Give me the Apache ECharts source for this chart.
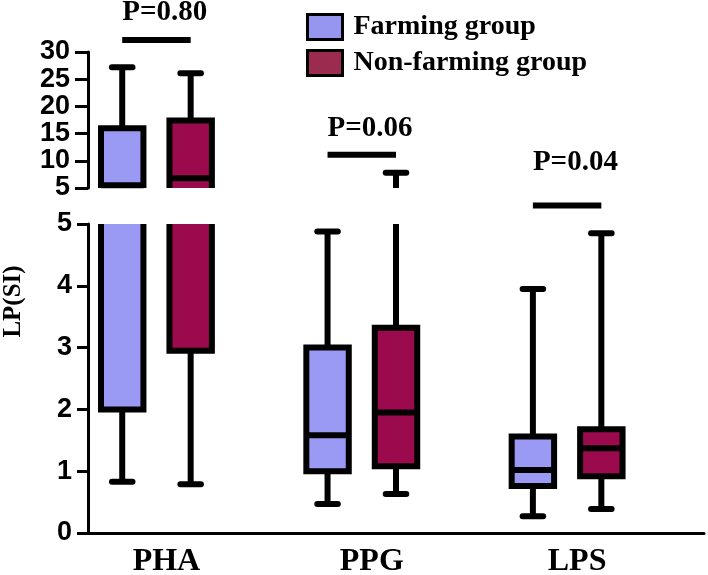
<!DOCTYPE html>
<html><head><meta charset="utf-8">
<script src="https://cdn.jsdelivr.net/npm/echarts@6/dist/echarts.min.js"></script>
<style>html,body{margin:0;padding:0;background:#fff}#c{width:708px;height:575px}</style>
</head><body><div id="c"></div>
<script>
const categories = ['PHA', 'PPG', 'LPS'];
const seriesNames = ['Farming group', 'Non-farming group'];
// [min, Q1, median, Q3, max] per category
const farming = [
  [0.83, 2.0, 5.5, 16.0, 27.2],
  [0.47, 1.0, 1.58, 3.0, 4.88],
  [0.27, 0.76, 1.02, 1.56, 3.95]
];
const nonFarming = [
  [0.79, 2.95, 6.8, 17.4, 26.1],
  [0.63, 1.08, 1.95, 3.32, 7.8],
  [0.39, 0.92, 1.37, 1.68, 4.85]
];
const upperTicks = [5, 10, 15, 20, 25, 30];
const lowerTicks = [0, 1, 2, 3, 4, 5];
const pLabels = ['P=0.80', 'P=0.06', 'P=0.04'];
const pPanel = [0, 0, 1];          // 0 = upper segment, 1 = lower segment
const pLineLevels = [32.2, 11.1, 5.3];
const pTextLevels = [37.2, 16.0, 6.0];

const BREAK = 5;
const LW = 6;
const colors = ['#9a9af5', '#9c0a4e'];
const legendColors = ['#9696f0', '#9c2c4f'];

function boxRenderer(lo, hi, s) {
  return function (params, api) {
    const g = api.value(0);
    const v = [api.value(1), api.value(2), api.value(3), api.value(4), api.value(5)];
    const xc = 1 + 3 * g + (s === 0 ? -0.5 : 0.5);
    const slot = api.size([1, 0])[0];
    const hw = slot * 0.31, cw = slot * 0.15;
    const cx = api.coord([xc, lo])[0];
    const Y = y => api.coord([xc, y])[1];
    const cl = y => Math.min(hi, Math.max(lo, y));
    const inR = y => y >= lo && y <= hi;
    const color = api.visual('color');
    const ls = { stroke: '#000', lineWidth: LW, fill: null };
    const ch = [];
    const L = cx - hw, R = cx + hw;
    const a = cl(v[3]), bmax = cl(v[4]);
    if (bmax > a) ch.push({ type: 'line', shape: { x1: cx, y1: Y(a), x2: cx, y2: Y(bmax) }, style: Object.assign({}, ls, { lineCap: 'butt' }) });
    if (inR(v[4])) ch.push({ type: 'line', shape: { x1: cx - cw, y1: Y(v[4]), x2: cx + cw, y2: Y(v[4]) }, style: Object.assign({}, ls, { lineCap: 'round' }) });
    const c = cl(v[1]), dmin = cl(v[0]);
    if (c > dmin) ch.push({ type: 'line', shape: { x1: cx, y1: Y(c), x2: cx, y2: Y(dmin) }, style: Object.assign({}, ls, { lineCap: 'butt' }) });
    if (inR(v[0])) ch.push({ type: 'line', shape: { x1: cx - cw, y1: Y(v[0]), x2: cx + cw, y2: Y(v[0]) }, style: Object.assign({}, ls, { lineCap: 'round' }) });
    const b = cl(v[1]), t = cl(v[3]);
    if (t > b) {
      const yb = Y(b), yt = Y(t);
      ch.push({ type: 'rect', shape: { x: L, y: yt, width: R - L, height: yb - yt }, style: { fill: color } });
      const hasTop = inR(v[3]), hasBot = inR(v[1]);
      let pts = null;
      if (hasTop && hasBot) {
        ch.push({ type: 'rect', shape: { x: L, y: yt, width: R - L, height: yb - yt }, style: Object.assign({}, ls, { lineJoin: 'miter' }) });
      } else if (hasTop) {
        pts = [[L, yb], [L, yt], [R, yt], [R, yb]];
      } else if (hasBot) {
        pts = [[L, yt], [L, yb], [R, yb], [R, yt]];
      } else {
        ch.push({ type: 'line', shape: { x1: L, y1: yt, x2: L, y2: yb }, style: ls });
        ch.push({ type: 'line', shape: { x1: R, y1: yt, x2: R, y2: yb }, style: ls });
      }
      if (pts) ch.push({ type: 'polyline', shape: { points: pts }, style: Object.assign({}, ls, { lineJoin: 'miter', lineCap: 'butt' }) });
    }
    if (inR(v[2])) ch.push({ type: 'line', shape: { x1: L, y1: Y(v[2]), x2: R, y2: Y(v[2]) }, style: Object.assign({}, ls, { lineCap: 'butt' }) });
    return { type: 'group', children: ch };
  };
}

function pRenderer(params, api) {
  const i = api.value(0);
  const lvl = api.value(1), tl = api.value(2);
  const p1 = api.coord([1 + 3 * i - 0.5, lvl]);
  const p2 = api.coord([1 + 3 * i + 0.5, lvl]);
  const pt = api.coord([1 + 3 * i - 0.5, tl]);
  return {
    type: 'group', children: [
      { type: 'line', shape: { x1: p1[0], y1: p1[1], x2: p2[0], y2: p2[1] }, style: { stroke: '#000', lineWidth: LW } },
      { type: 'text', x: pt[0], y: pt[1], style: { text: pLabels[i], fill: '#000', font: 'bold 29px "Liberation Serif"', align: 'left', verticalAlign: 'middle' } }
    ]
  };
}

function axisStyle(tickLen) {
  return {
    axisLine: { show: true, lineStyle: { color: '#000', width: 3 } },
    axisTick: { show: true, length: tickLen, lineStyle: { color: '#000', width: 3 } },
    splitLine: { show: false },
    axisLabel: { color: '#000', fontFamily: 'Liberation Sans', fontWeight: 'bold', fontSize: 27, margin: tickLen + 5 }
  };
}

const mkData = arr => arr.map((d, i) => [i].concat(d));
const pData = panel => pLabels.map((t, i) => [i, pLineLevels[i], pTextLevels[i]]).filter((d, i) => pPanel[i] === panel);

const option = {
  animation: false,
  backgroundColor: '#fff',
  grid: [
    { left: 88, right: 4, top: 52, height: 136, outerBoundsMode: 'none', containLabel: false },
    { left: 88, right: 4, top: 224, height: 309, outerBoundsMode: 'none', containLabel: false }
  ],
  legend: {
    orient: 'vertical', left: 301, top: 8, itemWidth: 35, itemHeight: 25, itemGap: 8, icon: 'rect',
    itemStyle: { borderColor: '#000', borderWidth: 3 },
    textStyle: { fontFamily: 'Liberation Serif', fontWeight: 'bold', fontSize: 28, color: '#000', padding: [0, 0, 0, 6] },
    data: seriesNames.map((n, i) => ({ name: n, itemStyle: { color: legendColors[i] } }))
  },
  xAxis: [
    { type: 'value', gridIndex: 0, min: 0, max: 9, show: false },
    {
      type: 'value', gridIndex: 1, min: 0, max: 9, interval: 1,
      axisLine: { show: true, lineStyle: { color: '#000', width: 3 } },
      axisTick: { show: false }, splitLine: { show: false },
      axisLabel: {
        formatter: v => { const i = (v - 1) / 3; return Number.isInteger(i) && categories[i] ? categories[i] : ''; },
        color: '#000', fontFamily: 'Liberation Serif', fontWeight: 'bold', fontSize: 32, margin: 13,
        padding: [0, 0, 0, 20]
      }
    }
  ],
  yAxis: [
    Object.assign({ type: 'value', gridIndex: 0, min: BREAK, max: upperTicks[upperTicks.length - 1], interval: 5 }, axisStyle(13)),
    Object.assign({
      type: 'value', gridIndex: 1, min: lowerTicks[0], max: BREAK, interval: 1,
      name: 'LP(SI)', nameLocation: 'middle', nameRotate: 90, nameGap: 62,
      nameTextStyle: { fontFamily: 'Liberation Serif', fontWeight: 'bold', fontSize: 25, color: '#000', padding: [0, 0, 0, 154] }
    }, axisStyle(11))
  ],
  series: [
    { name: seriesNames[0], type: 'custom', xAxisIndex: 0, yAxisIndex: 0, clip: false, itemStyle: { color: colors[0] }, renderItem: boxRenderer(BREAK, 30, 0), data: mkData(farming) },
    { name: seriesNames[0], type: 'custom', xAxisIndex: 1, yAxisIndex: 1, clip: false, itemStyle: { color: colors[0] }, renderItem: boxRenderer(0, BREAK, 0), data: mkData(farming) },
    { name: seriesNames[1], type: 'custom', xAxisIndex: 0, yAxisIndex: 0, clip: false, itemStyle: { color: colors[1] }, renderItem: boxRenderer(BREAK, 30, 1), data: mkData(nonFarming) },
    { name: seriesNames[1], type: 'custom', xAxisIndex: 1, yAxisIndex: 1, clip: false, itemStyle: { color: colors[1] }, renderItem: boxRenderer(0, BREAK, 1), data: mkData(nonFarming) },
    { name: 'pU', type: 'custom', xAxisIndex: 0, yAxisIndex: 0, clip: false, renderItem: pRenderer, data: pData(0) },
    { name: 'pL', type: 'custom', xAxisIndex: 1, yAxisIndex: 1, clip: false, renderItem: pRenderer, data: pData(1) }
  ]
};
const chart = echarts.init(document.getElementById('c'), null, { renderer: 'canvas' });
chart.setOption(option);
</script>
</body></html>
